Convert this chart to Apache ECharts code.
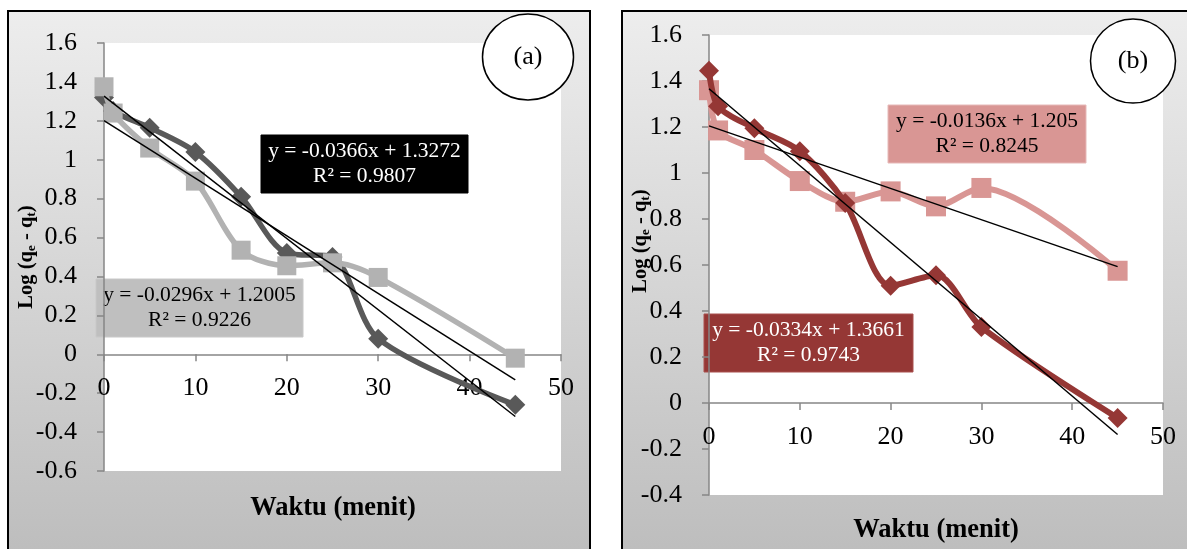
<!DOCTYPE html>
<html>
<head>
<meta charset="utf-8">
<script src="https://cdn.jsdelivr.net/npm/echarts@6/dist/echarts.min.js"></script>
<style>
  html, body { margin: 0; padding: 0; background: #fff; }
  #wrap { position: relative; width: 1187px; height: 549px; overflow: hidden; }
  .panel {
    position: absolute;
    box-sizing: border-box;
    border: 2px solid #000;
    background: linear-gradient(#ededed, #bcbcbc);
  }
  #pa { left: 7px; top: 10px; width: 584px; height: 560px; }
  #pb { left: 621px; top: 10px; width: 590px; height: 560px; }
  #chart { position: absolute; left: 0; top: 0; width: 1187px; height: 549px; }
</style>
</head>
<body>
<div id="wrap">
  <div class="panel" id="pa"></div>
  <div class="panel" id="pb"></div>
  <div id="chart"></div>
</div>
<script>
// waktu (menit)
const minutes = [0, 1, 5, 10, 15, 20, 25, 30, 45];

// panel (a)
const aDark = [1.32, 1.25, 1.165, 1.04, 0.81, 0.52, 0.50, 0.08, -0.26];
const aLight = [1.375, 1.24, 1.06, 0.89, 0.535, 0.455, 0.47, 0.395, -0.02];
// panel (b)
const bDark = [1.445, 1.29, 1.195, 1.095, 0.87, 0.51, 0.555, 0.33, -0.065];
const bPink = [1.36, 1.185, 1.10, 0.965, 0.875, 0.92, 0.855, 0.935, 0.575];

// trendlines [slope, intercept]
const fitADark = [-0.0366, 1.3272];
const fitALight = [-0.0296, 1.2005];
const fitBDark = [-0.0334, 1.3661];
const fitBPink = [-0.0136, 1.205];

// axis ranges [min, max, interval]
const xRange = [0, 50, 10];
const yRangeA = [-0.6, 1.6, 0.2];
const yRangeB = [-0.4, 1.6, 0.2];

const eqADark = 'y = -0.0366x + 1.3272\nR² = 0.9807';
const eqALight = 'y = -0.0296x + 1.2005\nR² = 0.9226';
const eqBPink = 'y = -0.0136x + 1.205\nR² = 0.8245';
const eqBDark = 'y = -0.0334x + 1.3661\nR² = 0.9743';

const SERIF = '"Liberation Serif", "Times New Roman", serif';

const gridA = { left: 104, top: 43, width: 457, height: 428 };
const gridB = { left: 709, top: 35, width: 454, height: 460 };

const pts = (ys) => minutes.map((x, i) => [x, ys[i]]);
const fitLine = ([m, b]) => {
  const x1 = minutes[minutes.length - 1];
  return [[minutes[0], b], [x1, +(m * x1 + b).toFixed(4)]];
};

// x axis sits on y = 0, labels and ticks with it
function xAx(idx, g, yr) {
  const off = -g.height * (0 - yr[0]) / (yr[1] - yr[0]);
  return {
    type: 'value', gridIndex: idx, position: 'bottom', offset: off,
    min: xRange[0], max: xRange[1], interval: xRange[2],
    axisLine: { show: true, onZero: false, lineStyle: { color: '#868686', width: 1.5 } },
    axisTick: { show: true, length: 7, lineStyle: { color: '#868686', width: 1.5 } },
    axisLabel: { color: '#000', fontFamily: SERIF, fontSize: 26, margin: 21, showMinLabel: true, showMaxLabel: true },
    splitLine: { show: false }
  };
}
function yAx(idx, r) {
  return {
    type: 'value', gridIndex: idx,
    min: r[0], max: r[1], interval: r[2],
    axisLine: { show: true, onZero: false, lineStyle: { color: '#868686', width: 1.5 } },
    axisTick: { show: true, length: 7, lineStyle: { color: '#868686', width: 1.5 } },
    axisLabel: { color: '#000', fontFamily: SERIF, fontSize: 26, margin: 27 },
    splitLine: { show: false }
  };
}
function dataSeries(idx, ys, color, symbol, size, width, z) {
  return {
    type: 'line', xAxisIndex: idx, yAxisIndex: idx,
    data: pts(ys), smooth: 0.3,
    symbol: symbol, symbolSize: size, showSymbol: true,
    lineStyle: { color: color, width: width },
    itemStyle: { color: color },
    z: z
  };
}
function trendSeries(idx, fit) {
  return {
    type: 'line', xAxisIndex: idx, yAxisIndex: idx,
    data: fitLine(fit), symbol: 'none',
    lineStyle: { color: '#000', width: 1.5 },
    z: 10
  };
}
function eqBox(x, y, w, h, fill, stroke, color, text) {
  return {
    type: 'group', x: x, y: y, z: 100,
    children: [
      { type: 'rect', shape: { x: 0, y: 0, width: w, height: h }, style: { fill: fill, stroke: stroke, lineWidth: 1 } },
      { type: 'text', style: { x: w / 2, y: h / 2, text: text, font: '21.5px ' + SERIF, fill: color,
        align: 'center', verticalAlign: 'middle', textAlign: 'center', textVerticalAlign: 'middle', lineHeight: 25 } }
    ]
  };
}
function badge(cx, cy, rx, ry, label) {
  return {
    type: 'group', z: 100,
    children: [
      { type: 'ellipse', shape: { cx: cx, cy: cy, rx: rx, ry: ry }, style: { fill: '#fff', stroke: '#000', lineWidth: 1.5 } },
      { type: 'text', style: { x: cx, y: cy, text: label, font: '26px ' + SERIF, fill: '#000',
        align: 'center', verticalAlign: 'middle', textAlign: 'center', textVerticalAlign: 'middle' } }
    ]
  };
}
function xTitle(x, y) {
  return { type: 'text', z: 100, style: { x: x, y: y, text: 'Waktu (menit)', font: 'bold 26.5px ' + SERIF, fill: '#000',
    align: 'center', verticalAlign: 'middle', textAlign: 'center', textVerticalAlign: 'middle' } };
}
function yTitle(x, y) {
  const m = { fontFamily: SERIF, fontWeight: 'bold', fontSize: 20.5, color: '#000' };
  const s = { fontFamily: SERIF, fontWeight: 'bold', fontSize: 13.5, color: '#000', padding: [9, 0, 0, 0] };
  return { type: 'text', z: 100, x: x, y: y, rotation: Math.PI / 2,
    style: { text: '{m|Log (q}{s|e}{m| - q}{s|t}{m|)}', rich: { m: m, s: s },
      align: 'center', verticalAlign: 'middle', textAlign: 'center', textVerticalAlign: 'middle' } };
}

const chart = echarts.init(document.getElementById('chart'));
chart.setOption({
  animation: false,
  grid: [
    Object.assign({ show: true, backgroundColor: '#fff', borderWidth: 0 }, gridA),
    Object.assign({ show: true, backgroundColor: '#fff', borderWidth: 0 }, gridB)
  ],
  xAxis: [xAx(0, gridA, yRangeA), xAx(1, gridB, yRangeB)],
  yAxis: [yAx(0, yRangeA), yAx(1, yRangeB)],
  series: [
    dataSeries(0, aDark, '#595959', 'diamond', 20, 5.5, 3),
    dataSeries(0, aLight, '#b2b2b2', 'rect', 19, 5.5, 4),
    trendSeries(0, fitADark),
    trendSeries(0, fitALight),
    dataSeries(1, bPink, '#d99694', 'rect', 20, 6, 3),
    dataSeries(1, bDark, '#953735', 'diamond', 20, 6, 4),
    trendSeries(1, fitBDark),
    trendSeries(1, fitBPink)
  ],
  graphic: [
    eqBox(261, 135, 207, 58, '#000', '#000', '#fff', eqADark),
    eqBox(96, 279, 207, 58, '#bfbfbf', '#c8c8c8', '#000', eqALight),
    eqBox(888, 105, 198, 58, '#d99694', '#e6b9b8', '#000', eqBPink),
    eqBox(704, 314, 209, 58, '#953735', '#a9504e', '#fff', eqBDark),
    badge(528, 57, 45.5, 43, '(a)'),
    badge(1133, 61, 42.5, 42, '(b)'),
    xTitle(333, 508),
    xTitle(936, 530),
    yTitle(27, 257),
    yTitle(641, 241)
  ]
});
</script>
</body>
</html>
